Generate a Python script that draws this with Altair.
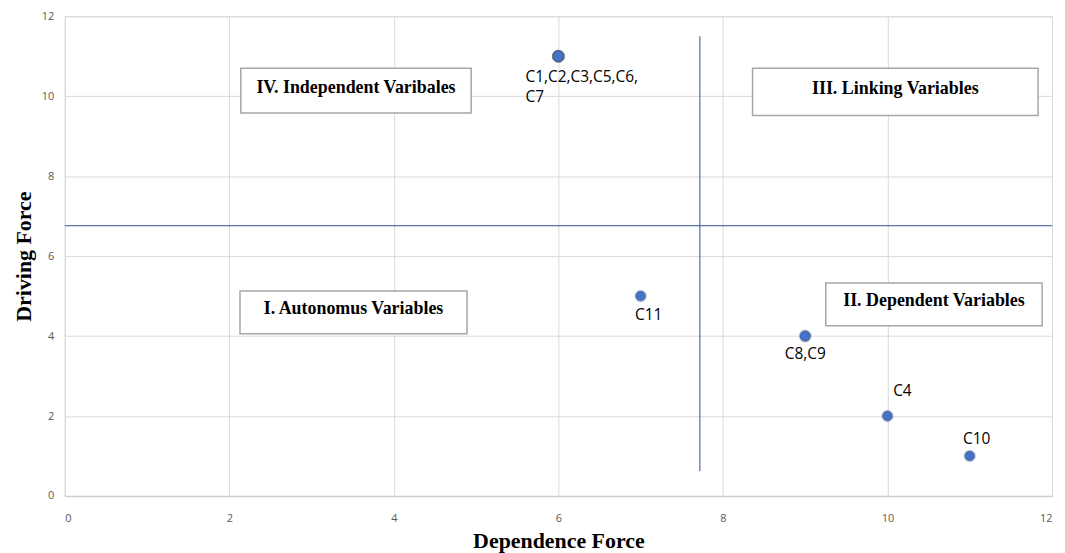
import altair as alt
import pandas as pd

# Variables (each plotted individually)
var_names = ["C1", "C2", "C3", "C5", "C6", "C7", "C11", "C8", "C9", "C4", "C10"]
dependence = [6, 6, 6, 6, 6, 6, 7, 9, 9, 10, 11]
driving = [11, 11, 11, 11, 11, 11, 5, 4, 4, 2, 1]

# Point labels (group label text, at the group's point)
label_text = ["C1,C2,C3,C5,C6,\nC7", "C11", "C8,C9", "C4", "C10"]
label_x = [6, 7, 9, 10, 11]
label_y = [11, 5, 4, 2, 1]

# Quadrant boxes
box_text = ["IV. Independent Varibales", "III. Linking Variables",
            "I. Autonomus Variables", "II. Dependent Variables"]
box_x1 = [2.14, 8.36, 2.13, 9.25]
box_x2 = [4.94, 11.83, 4.89, 11.88]
box_y1 = [9.58, 9.52, 4.06, 4.26]
box_y2 = [10.7, 10.7, 5.13, 5.33]

# Divider lines
vline_x = [7.72]
vline_y1 = [0.62]
vline_y2 = [11.5]
hline_y = [6.76]

axis_ticks = [0, 2, 4, 6, 8, 10, 12]

pts = pd.DataFrame({"name": var_names, "x": dependence, "y": driving})
labels = pd.DataFrame({"t": label_text, "x": label_x, "y": label_y})
boxes = pd.DataFrame({"t": box_text, "x1": box_x1, "x2": box_x2,
                      "y1": box_y1, "y2": box_y2})
boxes["xc"] = (boxes["x1"] + boxes["x2"]) / 2
boxes["yc"] = (boxes["y1"] + boxes["y2"]) / 2

xs = alt.Scale(domain=[0, 12], nice=False, zero=False)
ys = alt.Scale(domain=[0, 12], nice=False, zero=False)

X = alt.X("x:Q", scale=xs, title="Dependence Force",
          axis=alt.Axis(values=axis_ticks, format="d", grid=True, gridColor="#d9d9d9",
                        domain=True, domainColor="#d0d0d0", domainWidth=1.5,
                        ticks=False, labelPadding=17, labelFont="Open Sans",
                        labelFontSize=11, labelColor="#595959",
                        titleFont="Liberation Serif", titleFontSize=22,
                        titleFontWeight="bold", titleColor="#000000",
                        titlePadding=7))
Y = alt.Y("y:Q", scale=ys, title="Driving Force",
          axis=alt.Axis(values=axis_ticks, format="d", grid=True, gridColor="#d9d9d9",
                        domain=False, ticks=False, labelPadding=11,
                        labelFont="Open Sans", labelFontSize=11,
                        labelColor="#595959",
                        titleFont="Liberation Serif", titleFontSize=22,
                        titleFontWeight="bold", titleColor="#000000",
                        titlePadding=6))

line_color = "#2F4E9A"

vline = alt.Chart(pd.DataFrame({"x": vline_x, "y": vline_y1, "y2": vline_y2})).mark_rule(
    color=line_color, strokeWidth=1).encode(x=X, y=Y, y2="y2:Q")
hline = alt.Chart(pd.DataFrame({"y": hline_y})).mark_rule(
    color=line_color, strokeWidth=1).encode(y=Y)

rects = alt.Chart(boxes).mark_rect(fill="white", stroke="#a6a6a6",
                                   strokeWidth=1.5).encode(
    x=alt.X("x1:Q", scale=xs), x2="x2:Q", y=alt.Y("y1:Q", scale=ys), y2="y2:Q")
rect_text = alt.Chart(boxes).mark_text(font="Liberation Serif", fontSize=18,
                                       fontWeight="bold", color="#000000",
                                       dy=-3).encode(
    x=alt.X("xc:Q", scale=xs), y=alt.Y("yc:Q", scale=ys), text="t:N")

shadow = alt.Chart(pts).mark_circle(size=170, color="#000000", opacity=0.12).encode(
    x=X, y=Y)
points = alt.Chart(pts).mark_circle(size=100, color="#4472C4", opacity=1,
                                    stroke="#3a62ad", strokeWidth=0.5).encode(
    x=X, y=Y, tooltip=["name:N"])

label_styles = [
    dict(align="left", baseline="top", dx=-33, dy=14),
    dict(align="center", baseline="top", dx=8, dy=12),
    dict(align="center", baseline="top", dx=0, dy=11),
    dict(align="center", baseline="bottom", dx=15, dy=-17),
    dict(align="center", baseline="bottom", dx=7, dy=-9),
]
label_layers = []
for i, st in enumerate(label_styles):
    d = labels.iloc[[i]].copy()
    d["t"] = d["t"].apply(lambda s: s.split("\n"))
    label_layers.append(
        alt.Chart(d).mark_text(font="Open Sans", fontSize=15.5, color="#000000",
                               lineHeight=20, **st).encode(
            x=alt.X("x:Q", scale=xs), y=alt.Y("y:Q", scale=ys), text="t"))

chart = alt.layer(
    vline, hline, rects, rect_text, shadow, points, *label_layers
).properties(
    width=992, height=482,
    autosize=alt.AutoSizeParams(type="none"),
    padding={"left": 57, "top": 7, "right": 5, "bottom": 56},
).configure_view(stroke=None).configure(background="white")

chart.save("out.html", embed_options={"renderer": "svg", "actions": False})
